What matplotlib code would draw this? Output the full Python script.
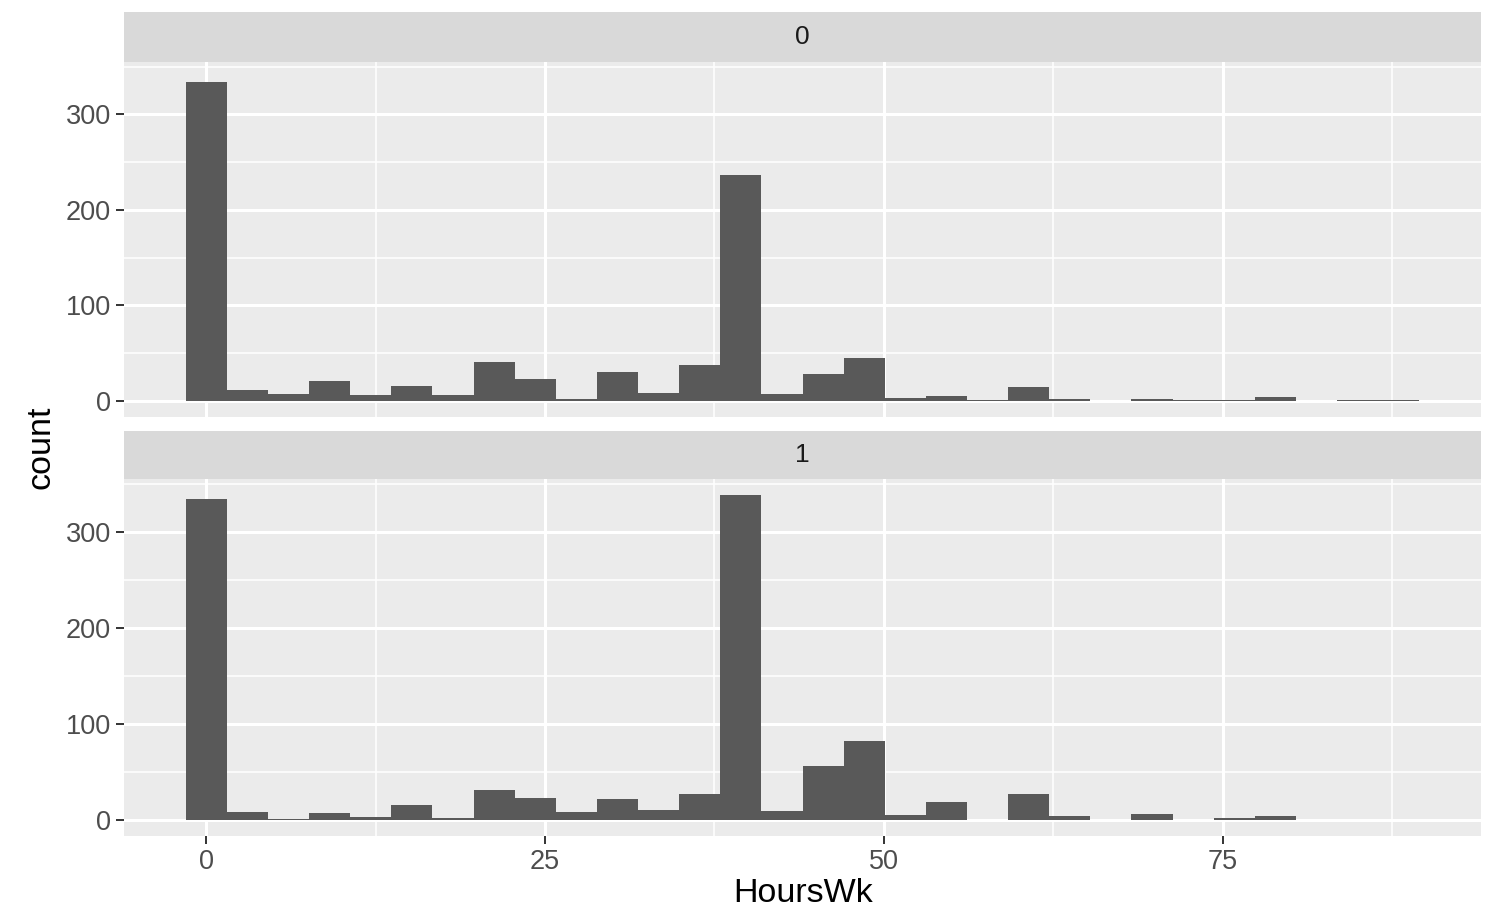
import matplotlib
matplotlib.use("Agg")
import matplotlib.pyplot as plt
import numpy as np

# histogram counts per bin (30 bins over HoursWk 0..88), one list per facet
facets = ["0", "1"]
counts_0 = [334, 11, 7, 21, 6, 16, 6, 41, 23, 2, 30, 8, 38, 237, 7,
            28, 45, 3, 5, 1, 15, 2, 0, 2, 1, 1, 4, 0, 1, 1]
counts_1 = [334, 8, 1, 7, 3, 15, 2, 31, 23, 8, 22, 10, 27, 338, 9,
            56, 82, 5, 18, 0, 27, 4, 0, 6, 0, 2, 4, 0, 0, 0]
x_min, x_max = 0, 88
xticks = [0, 25, 50, 75]
yticks = [0, 100, 200, 300]

plt.rcParams['font.family'] = ['Liberation Sans', 'DejaVu Sans']

W, H = 1490, 909
fig = plt.figure(figsize=(W / 100, H / 100), dpi=100)

nbins = len(counts_0)
binwidth = (x_max - x_min) / (nbins - 1)
centers = x_min + np.arange(nbins) * binwidth
lo, hi = x_min - binwidth / 2, x_max + binwidth / 2
xpad = (hi - lo) * 0.05
ymax = max(max(counts_0), max(counts_1))
ypad = ymax * 0.05

# pixel boxes: (strip_top, panel_top, panel_bottom)
boxes = [(12, 62, 417), (431, 479, 836)]
left, right = 124, 1481

for i, (lab, counts) in enumerate(zip(facets, [counts_0, counts_1])):
    st, pt, pb = boxes[i]
    sax = fig.add_axes([left / W, 1 - pt / H, (right - left) / W, (pt - st) / H])
    sax.set_facecolor("#D9D9D9")
    sax.set_xticks([]); sax.set_yticks([])
    for s in sax.spines.values():
        s.set_visible(False)
    sax.text(0.5, 0.5, lab, ha="center", va="center", fontsize=19,
             color="#1A1A1A", transform=sax.transAxes)

    ax = fig.add_axes([left / W, 1 - pb / H, (right - left) / W, (pb - pt) / H])
    ax.set_facecolor("#EBEBEB")
    ax.set_axisbelow(True)
    for s in ax.spines.values():
        s.set_visible(False)
    ax.bar(centers, counts, width=binwidth, color="#595959", linewidth=0)
    ax.set_xlim(lo - xpad, hi + xpad)
    ax.set_ylim(-ypad, ymax + ypad)
    ax.set_xticks(xticks)
    ax.set_yticks(yticks)
    ax.set_xticks([12.5, 37.5, 62.5, 87.5], minor=True)
    ax.set_yticks([50, 150, 250, 350], minor=True)
    ax.grid(which="major", color="white", linewidth=2.2)
    ax.grid(which="minor", color="white", linewidth=1.1)
    ax.tick_params(which="minor", length=0)
    ax.tick_params(which="major", color="#333333", length=5.5, width=1.4,
                   labelsize=19.5, labelcolor="#4D4D4D", pad=4)
    if i == 0:
        ax.tick_params(axis="x", which="major", length=0, labelbottom=False)
    else:
        ax.set_xticklabels([str(t) for t in xticks])

fig.text(803 / W, 1 - 894 / H, "HoursWk", ha="center", va="center",
         fontsize=24.5, color="black")
fig.text(41 / W, 1 - 447 / H, "count", ha="center", va="center",
         fontsize=24.5, color="black", rotation=90)

fig.savefig("out.png", dpi=100)
